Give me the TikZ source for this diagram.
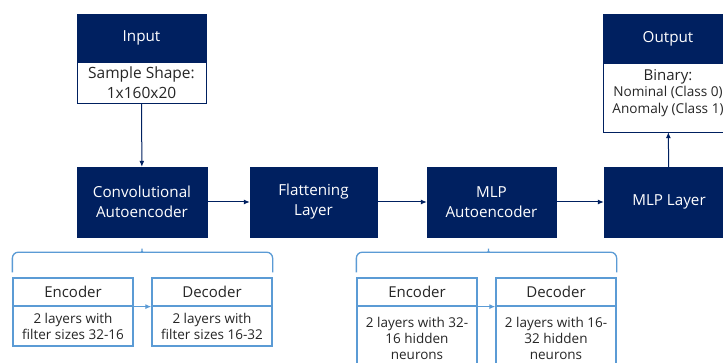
\documentclass[tikz,border=0pt]{standalone}
\usepackage{fontspec}
\setmainfont{Open Sans}
\usetikzlibrary{calc,arrows.meta}
\definecolor{navy}{HTML}{002060}
\definecolor{lightblue}{HTML}{5B9BD5}
\definecolor{textgray}{HTML}{262626}

\begin{document}
\begin{tikzpicture}[x=1pt,y=-1pt,
        darkbox/.style={draw=navy,fill=navy,text=white,align=center,
          minimum width=129pt,minimum height=70pt,inner sep=2pt,font=\fontsize{15.2}{20}\selectfont},
        whitebox/.style={draw=navy,fill=white,text=textgray,align=center,
          minimum width=129pt,inner sep=2pt,font=\fontsize{15.5}{20}\selectfont},
        subhead/.style={draw=lightblue,line width=1.3pt,fill=white,text=textgray,
          minimum width=120pt,minimum height=28pt,inner sep=2pt,font=\fontsize{15}{18}\selectfont},
        subbody/.style={draw=lightblue,line width=1.3pt,fill=white,text=textgray,align=center,
          minimum width=120pt,inner sep=2pt,font=\fontsize{13.5}{16}\selectfont},
        link/.style={draw=navy,line width=1pt,-{Latex[length=6pt,width=5pt]}},
        sublink/.style={draw=lightblue,line width=1.3pt,-{Latex[length=6pt,width=5pt]}},
        brace/.style={draw=lightblue,line width=1.3pt,rounded corners=6pt}]
  \clip (0,0) rectangle (723,363);
  \fill[white] (0,0) rectangle (723,363);

  % top row
  \node[darkbox,minimum height=48pt] (inhead) at (141.5,38) {Input};
  \node[whitebox,minimum height=41pt] (inbody) at (141.5,82.5) {Sample Shape:\\1x160x20};
  \node[darkbox,minimum width=130pt,minimum height=49pt] (outhead) at (668,38.5) {Output};
  \node[whitebox,minimum width=130pt,minimum height=69pt,font=\fontsize{13.6}{16.5}\selectfont] (outbody) at (668,97.5)
    {{\fontsize{15}{16.5}\selectfont Binary:}\\Nominal (Class 0)\\Anomaly (Class 1)\\[-4pt]};

  % main row
  \node[darkbox,minimum width=130pt] (convae) at (142,202) {Convolutional\\Autoencoder};
  \node[darkbox,minimum width=127pt] (flat) at (313.5,202) {Flattening\\Layer};
  \node[darkbox] (mlpae) at (491.5,202) {MLP\\Autoencoder};
  \node[darkbox,minimum width=130pt] (mlplayer) at (669,202) {MLP Layer};

  % sub boxes
  \node[subhead] (cenchead) at (73,292) {Encoder};
  \node[subbody,minimum height=40pt] (cencbody) at (73,326) {2 layers with\\filter sizes 32-16};
  \node[subhead] (cdechead) at (212,292) {Decoder};
  \node[subbody,minimum height=40pt] (cdecbody) at (212,326) {2 layers with\\filter sizes 16-32};
  \node[subhead] (menchead) at (417,292) {Encoder};
  \node[subbody,minimum height=64pt] (mencbody) at (417,338) {2 layers with 32-\\16 hidden\\neurons};
  \node[subhead] (mdechead) at (556,292) {Decoder};
  \node[subbody,minimum height=64pt] (mdecbody) at (556,338) {2 layers with 16-\\32 hidden\\neurons};

  % arrows
  \draw[link] (inbody) -- (convae);
  \draw[link] (convae) -- (flat);
  \draw[link] (flat) -- (mlpae);
  \draw[link] (mlpae) -- (mlplayer);
  \draw[link] (mlplayer) -- (outbody);
  \draw[sublink] (cenchead.south east) -- (cdechead.south west);
  \draw[sublink] (menchead.south east) -- (mdechead.south west);

  % braces
  \draw[brace] ($(cenchead.north west)+(0,-5)$) |- ($(convae.south)+(-5,15)$)
    .. controls ($(convae.south)+(-1,15)$) and ($(convae.south)+(0,12)$) .. ($(convae.south)+(0,8)$)
    .. controls ($(convae.south)+(0,12)$) and ($(convae.south)+(1,15)$) .. ($(convae.south)+(5,15)$)
    -| ($(cdechead.north east)+(0,-5)$);
  \draw[brace] ($(menchead.north west)+(0,-5)$) |- ($(mlpae.south)+(-8,15)$)
    .. controls ($(mlpae.south)+(-4,15)$) and ($(mlpae.south)+(-3,12)$) .. ($(mlpae.south)+(-3,8)$)
    .. controls ($(mlpae.south)+(-3,12)$) and ($(mlpae.south)+(-2,15)$) .. ($(mlpae.south)+(2,15)$)
    -| ($(mdechead.north east)+(0,-5)$);
\end{tikzpicture}
\end{document}
